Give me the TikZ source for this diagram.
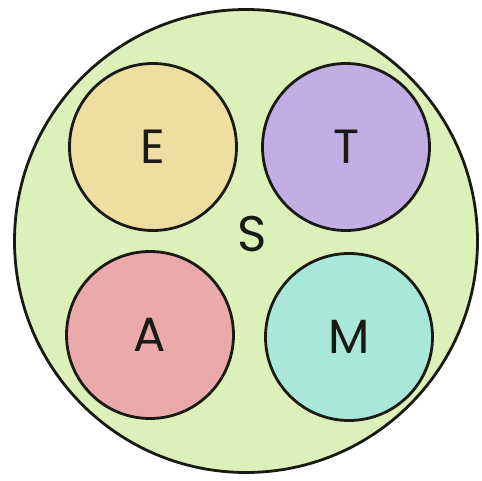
\documentclass[tikz,border=0pt]{standalone}
\usepackage{fontspec}
\setmainfont{Poppins}
\definecolor{bigfill}{HTML}{DDF0B9}
\definecolor{efill}{HTML}{EEDEA2}
\definecolor{tfill}{HTML}{C1AEE2}
\definecolor{afill}{HTML}{EBAAAA}
\definecolor{mfill}{HTML}{A9E8D9}
\definecolor{edge}{HTML}{1A1A14}
\begin{document}
\begin{tikzpicture}[x=1pt,y=-1pt,
  ring/.style={circle,draw=edge,line width=2.8pt,inner sep=0pt,minimum size=167pt,
    font=\fontsize{48}{48}\selectfont,text=edge},
  label/.style={font=\fontsize{50}{50}\selectfont,text=edge}]
\useasboundingbox (0,0) rectangle (482,481);
\node[circle,draw=edge,fill=bigfill,line width=2.8pt,inner sep=0pt,minimum size=463pt] (S0) at (246,241) {};
\node[ring,fill=efill] (E) at (153,147) {E};
\node[ring,fill=tfill] (T) at (346,147) {T};
\node[ring,fill=afill] (A) at (150,335) {A};
\node[ring,fill=mfill] (M) at (349,337) {M};
\node[label] (S) at (252,234) {S};
\end{tikzpicture}
\end{document}
